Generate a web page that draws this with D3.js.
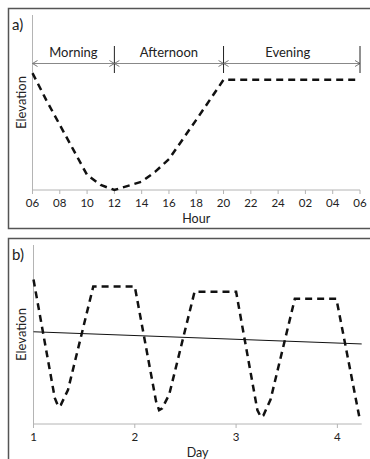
<!DOCTYPE html>
<html lang="en">
<head>
<meta charset="UTF-8">
<title>Elevation by hour and day</title>
<script src="https://d3js.org/d3.v7.min.js"></script>
<style>
body { margin: 0; background: #fff; }
text { font-family: Lato, "Open Sans", sans-serif; fill: #222; }
</style>
</head>
<body>
<script>
// panel a: one day, hours counted from 06 (30 = 06 next morning)
var hourTicks = [6, 8, 10, 12, 14, 16, 18, 20, 22, 24, 26, 28, 30];
var hourLabels = ["06", "08", "10", "12", "14", "16", "18", "20", "22", "24", "02", "04", "06"];
var hoursA = [6, 7, 8, 9, 10, 11, 12, 13, 14, 15, 16, 18, 20, 30];
var elevA = [70, 54, 39, 24, 9, 3, 0, 2.5, 5, 11, 18.5, 42, 66, 66];
var periods = ["Morning", "Afternoon", "Evening"];
var periodBounds = [6, 12, 20, 30];

// panel b: several days
var dayTicks = [1, 2, 3, 4];
var daysB = [1.0, 1.21, 1.245, 1.27, 1.34, 1.59, 2.0, 2.21, 2.24, 2.27, 2.34, 2.59, 3.0, 3.21, 3.245, 3.27, 3.34, 3.58, 3.99, 4.22];
var elevB = [83, 15, 10, 11, 19.5, 79, 79, 13, 8, 9, 17, 76, 76, 8, 4, 5, 14, 72, 72, 3];
var trendDays = [1, 4.24];
var trendElev = [53, 46];

var width = 370, height = 459;
var axisGrey = "#b4b4b4";

var svg = d3.select("body").append("svg")
  .attr("width", width)
  .attr("height", height);

function frame(y0, h) {
  svg.append("rect")
    .attr("x", 8.5).attr("y", y0 + 0.5)
    .attr("width", 380).attr("height", h)
    .attr("fill", "none")
    .attr("stroke", "#555")
    .attr("stroke-width", 1.5);
}

function axes(g, x, y, ticks, labels, yTop, xTitle) {
  var x0 = x.range()[0], x1 = x.range()[1], y0 = y.range()[0];
  g.append("line")
    .attr("x1", x0).attr("x2", x0).attr("y1", yTop).attr("y2", y0)
    .attr("stroke", axisGrey);
  g.append("line")
    .attr("x1", x0).attr("x2", x1).attr("y1", y0).attr("y2", y0)
    .attr("stroke", axisGrey);
  g.selectAll(".tick").data(ticks).enter().append("line")
    .attr("x1", function(d) { return x(d); })
    .attr("x2", function(d) { return x(d); })
    .attr("y1", y0).attr("y2", y0 + 4)
    .attr("stroke", axisGrey);
  g.selectAll(".tl").data(ticks).enter().append("text")
    .attr("x", function(d) { return x(d); })
    .attr("y", y0 + 17)
    .attr("text-anchor", "middle")
    .style("font-size", "11.5px")
    .text(function(d, i) { return labels[i]; });
  g.append("text")
    .attr("x", (x0 + x1) / 2)
    .attr("y", y0 + 33)
    .attr("text-anchor", "middle")
    .style("font-size", "12.5px")
    .text(xTitle);
  var ym = (yTop + y0) / 2;
  g.append("text")
    .attr("transform", "translate(26," + ym + ") rotate(-90)")
    .attr("text-anchor", "middle")
    .style("font-size", "13px")
    .text("Elevation");
}

// ---- panel a ----
frame(8, 220);
var ga = svg.append("g");
var xa = d3.scaleLinear().domain([6, 30]).range([32.5, 360]);
var ya = d3.scaleLinear().domain([0, 100]).range([190, 23]);
axes(ga, xa, ya, hourTicks, hourLabels, 15, "Hour");

ga.append("text")
  .attr("x", 12).attr("y", 30)
  .style("font-size", "15px")
  .text("a)");

// period arrows
var arrowY = 63.5;
ga.append("line")
  .attr("x1", xa(6)).attr("x2", xa(30))
  .attr("y1", arrowY).attr("y2", arrowY)
  .attr("stroke", "#888");
periods.forEach(function(p, i) {
  var a = xa(periodBounds[i]), b = xa(periodBounds[i + 1]);
  ga.append("path")
    .attr("d", "M" + (a + 5) + "," + (arrowY - 3) + "L" + a + "," + arrowY + "L" + (a + 5) + "," + (arrowY + 3) +
      "M" + (b - 5) + "," + (arrowY - 3) + "L" + b + "," + arrowY + "L" + (b - 5) + "," + (arrowY + 3))
    .attr("fill", "none")
    .attr("stroke", "#777");
  ga.append("line")
    .attr("x1", b).attr("x2", b)
    .attr("y1", 46).attr("y2", 73)
    .attr("stroke", "#222");
  ga.append("text")
    .attr("x", (a + b) / 2 - (i == 2 ? 4 : 0))
    .attr("y", 57)
    .attr("text-anchor", "middle")
    .style("font-size", "13px")
    .text(p);
});

var lineA = d3.line()
  .x(function(d, i) { return xa(hoursA[i]); })
  .y(function(d) { return ya(d); });
ga.append("path")
  .datum(elevA)
  .attr("d", lineA)
  .attr("fill", "none")
  .attr("stroke", "#111")
  .attr("stroke-width", 2.5)
  .attr("stroke-dasharray", "7,5");

// ---- panel b ----
frame(238, 240);
var gb = svg.append("g");
var xb = d3.scaleLinear().domain([1, 4.24]).range([33.5, 361.7]);
var yb = d3.scaleLinear().domain([0, 100]).range([424, 250]);
axes(gb, xb, yb, dayTicks, dayTicks.map(String), 245, "Day");

gb.append("text")
  .attr("x", 12).attr("y", 260)
  .style("font-size", "15px")
  .text("b)");

var lineB = d3.line()
  .x(function(d, i) { return xb(daysB[i]); })
  .y(function(d) { return yb(d); });
gb.append("path")
  .datum(elevB)
  .attr("d", lineB)
  .attr("fill", "none")
  .attr("stroke", "#111")
  .attr("stroke-width", 2.5)
  .attr("stroke-dasharray", "7,5");

var trend = d3.line()
  .x(function(d, i) { return xb(trendDays[i]); })
  .y(function(d) { return yb(d); });
gb.append("path")
  .datum(trendElev)
  .attr("d", trend)
  .attr("fill", "none")
  .attr("stroke", "#111")
  .attr("stroke-width", 1);
</script>
</body>
</html>
